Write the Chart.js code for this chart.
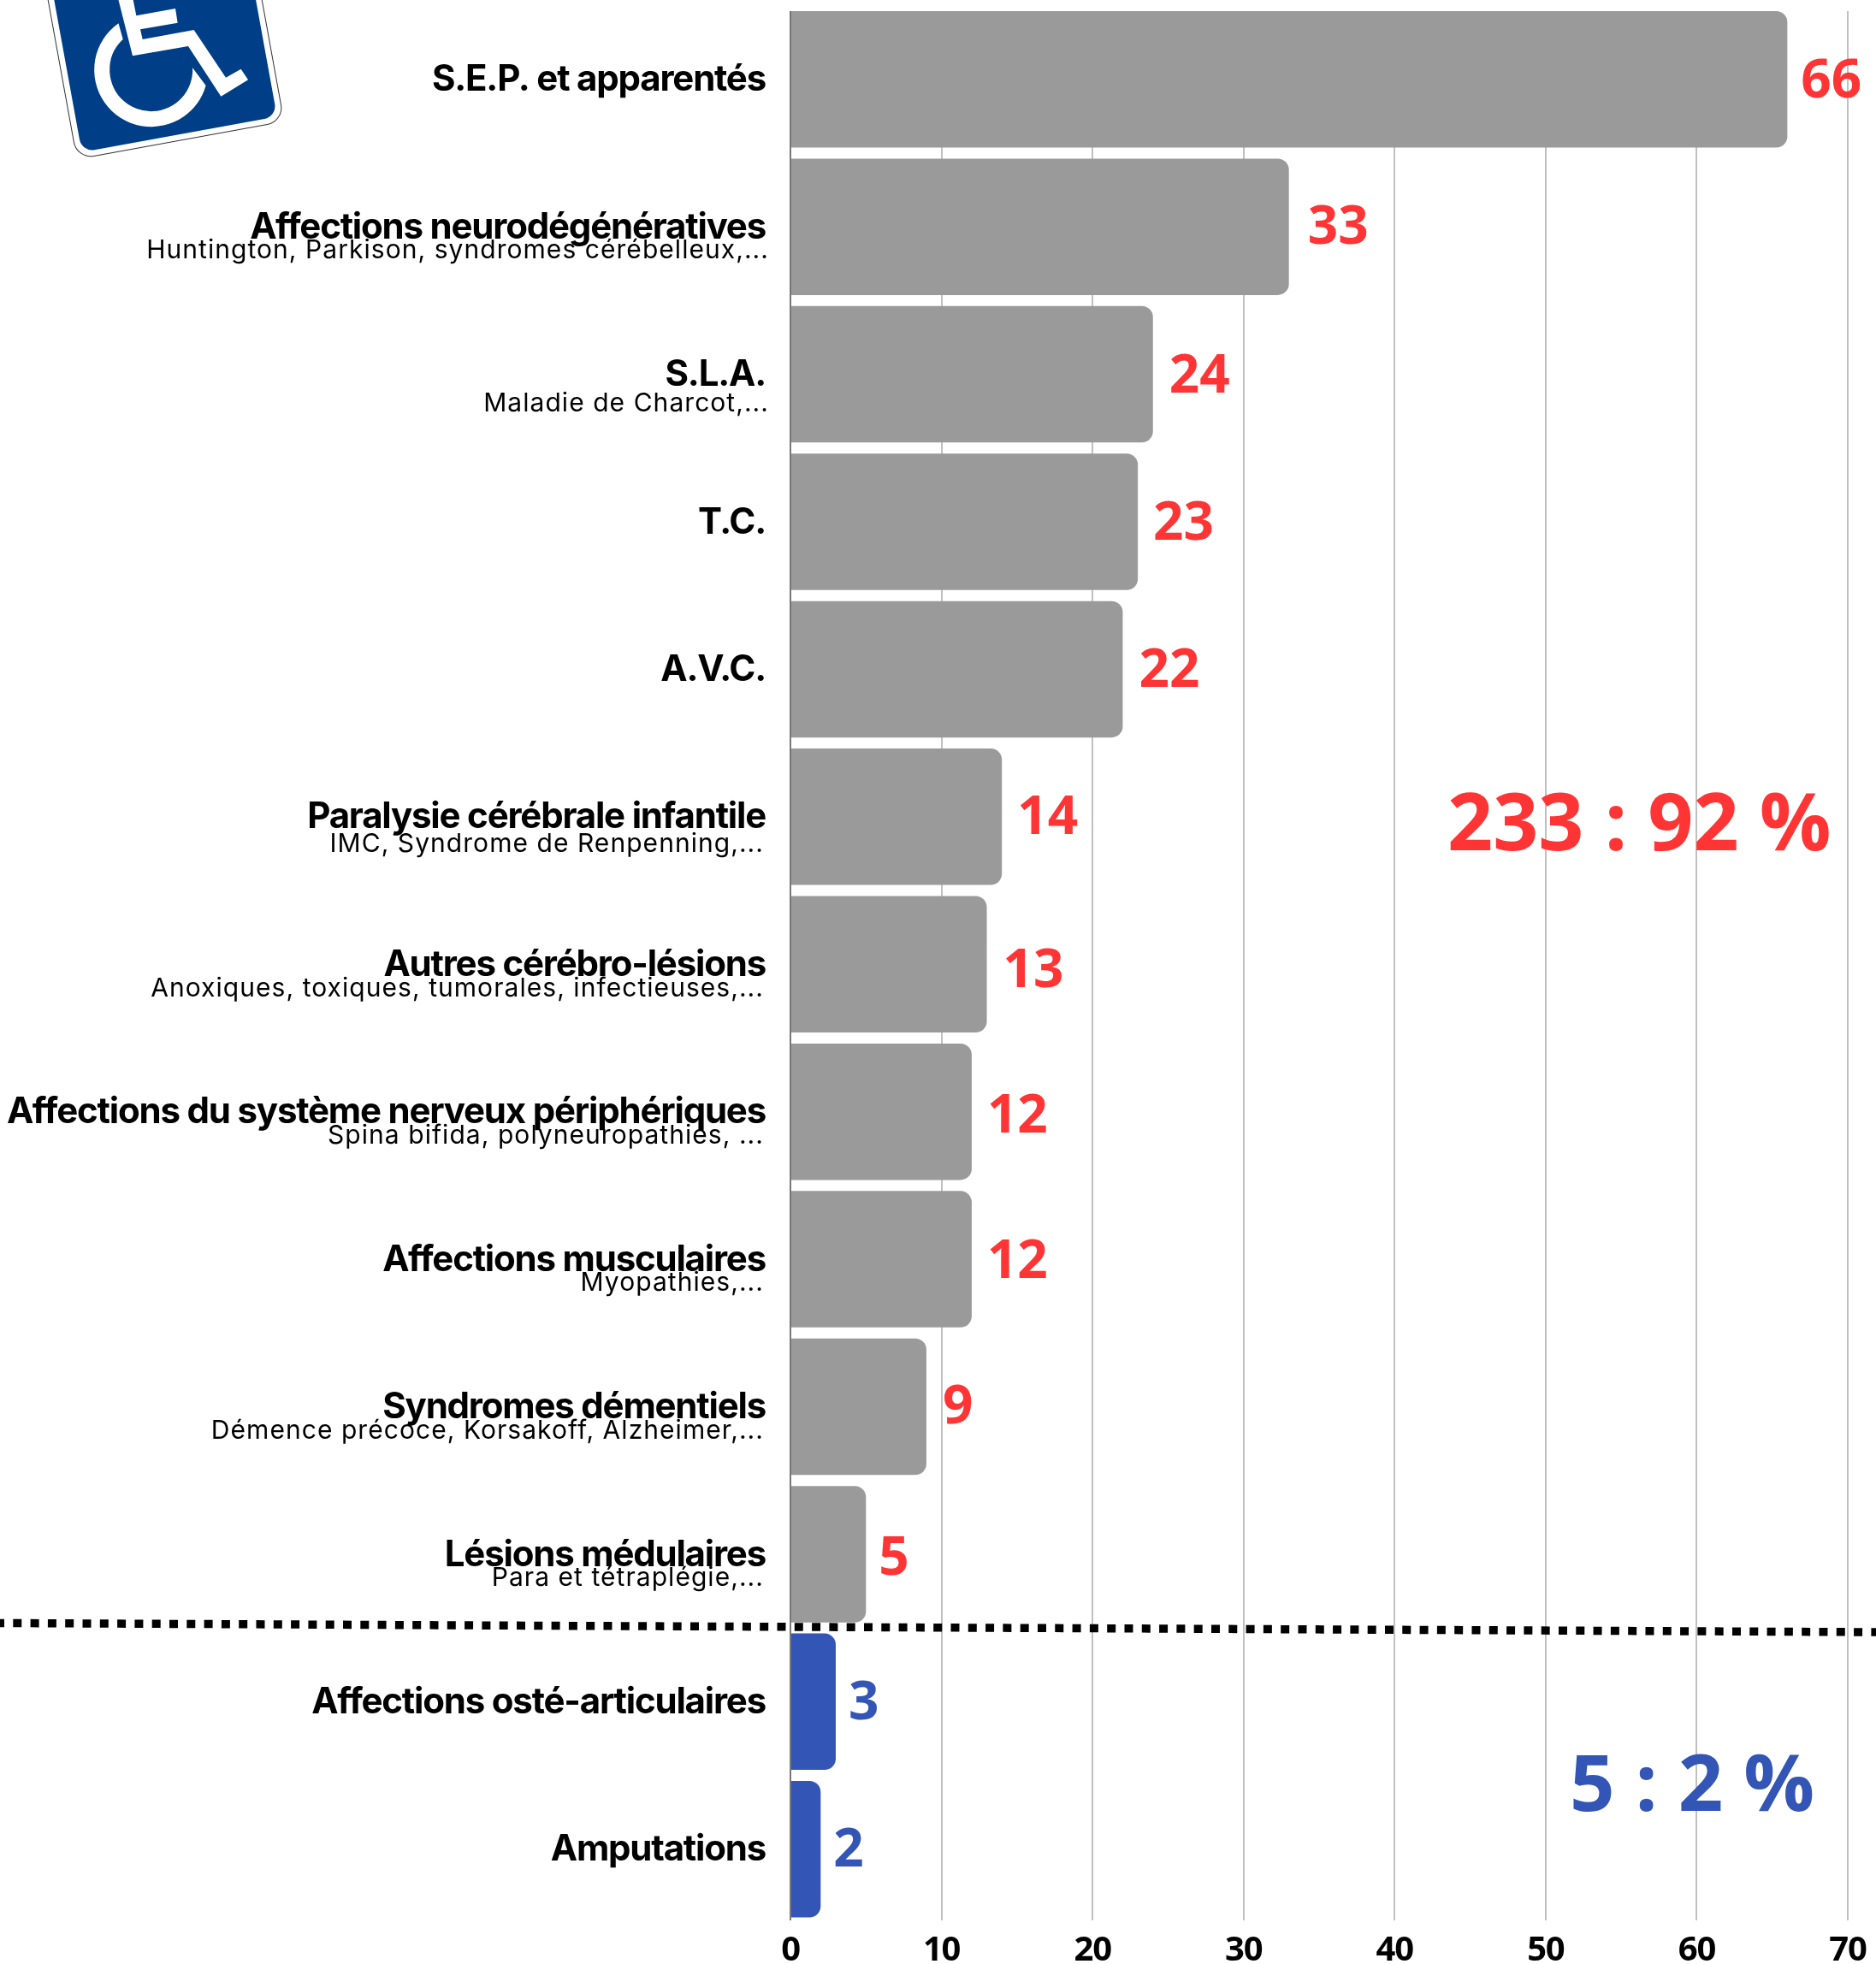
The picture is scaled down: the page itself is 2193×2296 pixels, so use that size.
<!DOCTYPE html>
<html lang="fr">
<head>
<meta charset="utf-8">
<style>html,body{margin:0;padding:0;background:#fff}canvas{display:block}</style>
<script src="https://cdn.jsdelivr.net/npm/chart.js@4/dist/chart.umd.min.js"></script>
</head>
<body>
<canvas id="c" width="2193" height="2296"></canvas>
<script>
const categories = ["S.E.P. et apparentés","Affections neurodégénératives","S.L.A.","T.C.","A.V.C.","Paralysie cérébrale infantile","Autres cérébro-lésions","Affections du système nerveux périphériques","Affections musculaires","Syndromes démentiels","Lésions médulaires","Affections osté-articulaires","Amputations"];
const subLabels = ["","Huntington, Parkison, syndromes cérébelleux,...","Maladie de Charcot,...","","","IMC, Syndrome de Renpenning,...","Anoxiques, toxiques, tumorales, infectieuses,...","Spina bifida, polyneuropathies, ...","Myopathies,...","Démence précoce, Korsakoff, Alzheimer,...","Para et tétraplégie,..."," ",""];
const values = [66,33,24,23,22,14,13,12,12,9,5,3,2];
const groups = ["n","n","n","n","n","n","n","n","n","n","n","o","o"];
const totals = [{text:"233 : 92 %",group:"n"},{text:"5 : 2 %",group:"o"}];
const barColors = {n:"#9a9a9a",o:"#3355b5"};
const textColors = {n:"#ff3535",o:"#3355b5"};

const BAR_LEFT = 924;
const subNudge = [0,0,6,0,0,4,1,0,0,0,0,0,0];
const valueNudgeX = [1,7,4,3,4,3,4,3,3,4,0,0,0];
const valueNudgeY = [1,-1,1,0,0,0,6,4,1,-1,3,0,0];

function drawSign(ctx){
  const px = p => [40+p[0]/3, p[1]/3];
  ctx.save();
  ctx.translate(90,186);
  ctx.rotate(-10.3*Math.PI/180);
  const rr = (x,y,w,h,r)=>{ctx.beginPath();ctx.roundRect(x,y,w,h,r);};
  ctx.fillStyle="#fff"; ctx.strokeStyle="#333"; ctx.lineWidth=1;
  rr(0,-400,246,400,20); ctx.fill(); ctx.stroke();
  ctx.fillStyle="#003f87";
  rr(7,-400,232,393,15); ctx.fill();
  ctx.restore();
  ctx.fillStyle="#fff";
  const seat=[[293,-10],[345,-10],[358,55],[495,30],[503,80],[372,103],[380,138],[560,105],[672,272],[725,242],[750,280],[655,338],[540,162],[345,196]];
  ctx.beginPath();
  seat.map(px).forEach((p,i)=>i?ctx.lineTo(p[0],p[1]):ctx.moveTo(p[0],p[1]));
  ctx.closePath(); ctx.fill();
  const d=Math.PI/180, c=px([410,245]);
  ctx.beginPath();
  ctx.arc(c[0],c[1],66.5,-125*d,-344*d,true);
  ctx.arc(c[0],c[1],48.5,-2.8*d,227.2*d,false);
  ctx.closePath(); ctx.fill();
}

const overlay = {
  id:"overlay",
  beforeDraw(chart){ chart.ctx.letterSpacing="-1.2px"; },
  beforeDatasetsDraw(chart){
    const ctx=chart.ctx, a=chart.chartArea;
    ctx.save(); ctx.fillStyle="#fff";
    ctx.fillRect(a.left-3,0,a.right-a.left+8,13);
    ctx.fillRect(a.left-3,2245,a.right-a.left+8,a.bottom-2245+2);
    ctx.restore();
  },
  afterDraw(chart){
    const ctx=chart.ctx, meta=chart.getDatasetMeta(0);
    ctx.save();
    ctx.letterSpacing="1.05px";
    ctx.font="400 30px Inter"; ctx.fillStyle="#000";
    ctx.textAlign="right"; ctx.textBaseline="middle";
    subLabels.forEach((s,i)=>{ if(s.trim()) ctx.fillText(s,(i<3?899:893),meta.data[i].y+28+subNudge[i]); });
    ctx.letterSpacing="0px";
    ctx.font="700 62px 'Open Sans'"; ctx.textAlign="left";
    values.forEach((v,i)=>{
      ctx.fillStyle=textColors[groups[i]];
      ctx.fillText(String(v),meta.data[i].x+15+valueNudgeX[i],meta.data[i].y+3+valueNudgeY[i]);
    });
    ctx.font="700 93px 'Open Sans'";
    ctx.fillStyle=textColors[totals[0].group]; ctx.fillText(totals[0].text,1692,967);
    ctx.font="700 92px 'Open Sans'";
    ctx.fillStyle=textColors[totals[1].group]; ctx.fillText(totals[1].text,1835,2091);
    ctx.strokeStyle="#000"; ctx.lineWidth=9.5; ctx.setLineDash([10,10.3]);
    ctx.beginPath(); ctx.moveTo(-5,1897.4); ctx.lineTo(2193,1908); ctx.stroke();
    ctx.setLineDash([]);
    drawSign(ctx);
    ctx.restore();
  }
};

new Chart(document.getElementById("c"),{
  type:"bar",
  data:{labels:categories,datasets:[{
    data:values,
    backgroundColor:groups.map(g=>barColors[g]),
    barPercentage:0.925,categoryPercentage:1,
    borderRadius:{topRight:13,bottomRight:13,topLeft:0,bottomLeft:0},
    borderSkipped:false
  }]},
  options:{
    indexAxis:"y",responsive:false,animation:false,
    layout:{padding:{top:6.5,right:33,left:0,bottom:0}},
    plugins:{legend:{display:false},title:{display:false},tooltip:{enabled:false}},
    scales:{
      x:{type:"linear",min:0,max:70,
        afterFit(s){s.height=48;s.paddingLeft=0;s.paddingRight=0;},
        ticks:{stepSize:10,padding:9,maxRotation:0,autoSkip:false,color:"#000",font:{family:"'Open Sans'",weight:"700",size:40}},
        grid:{color:"#c0c0c0",lineWidth:2,drawTicks:false},
        border:{display:false}},
      y:{type:"category",
        afterFit(s){s.width=BAR_LEFT;s.paddingTop=0;s.paddingBottom=0;},
        ticks:{padding:29,labelOffset:1,autoSkip:false,color:"#000",font:{family:"Inter",weight:"700",size:42}},
        grid:{display:false,drawTicks:false},
        border:{display:true,color:"#777",width:2}}
    }
  },
  plugins:[overlay]
});
</script>
</body>
</html>
